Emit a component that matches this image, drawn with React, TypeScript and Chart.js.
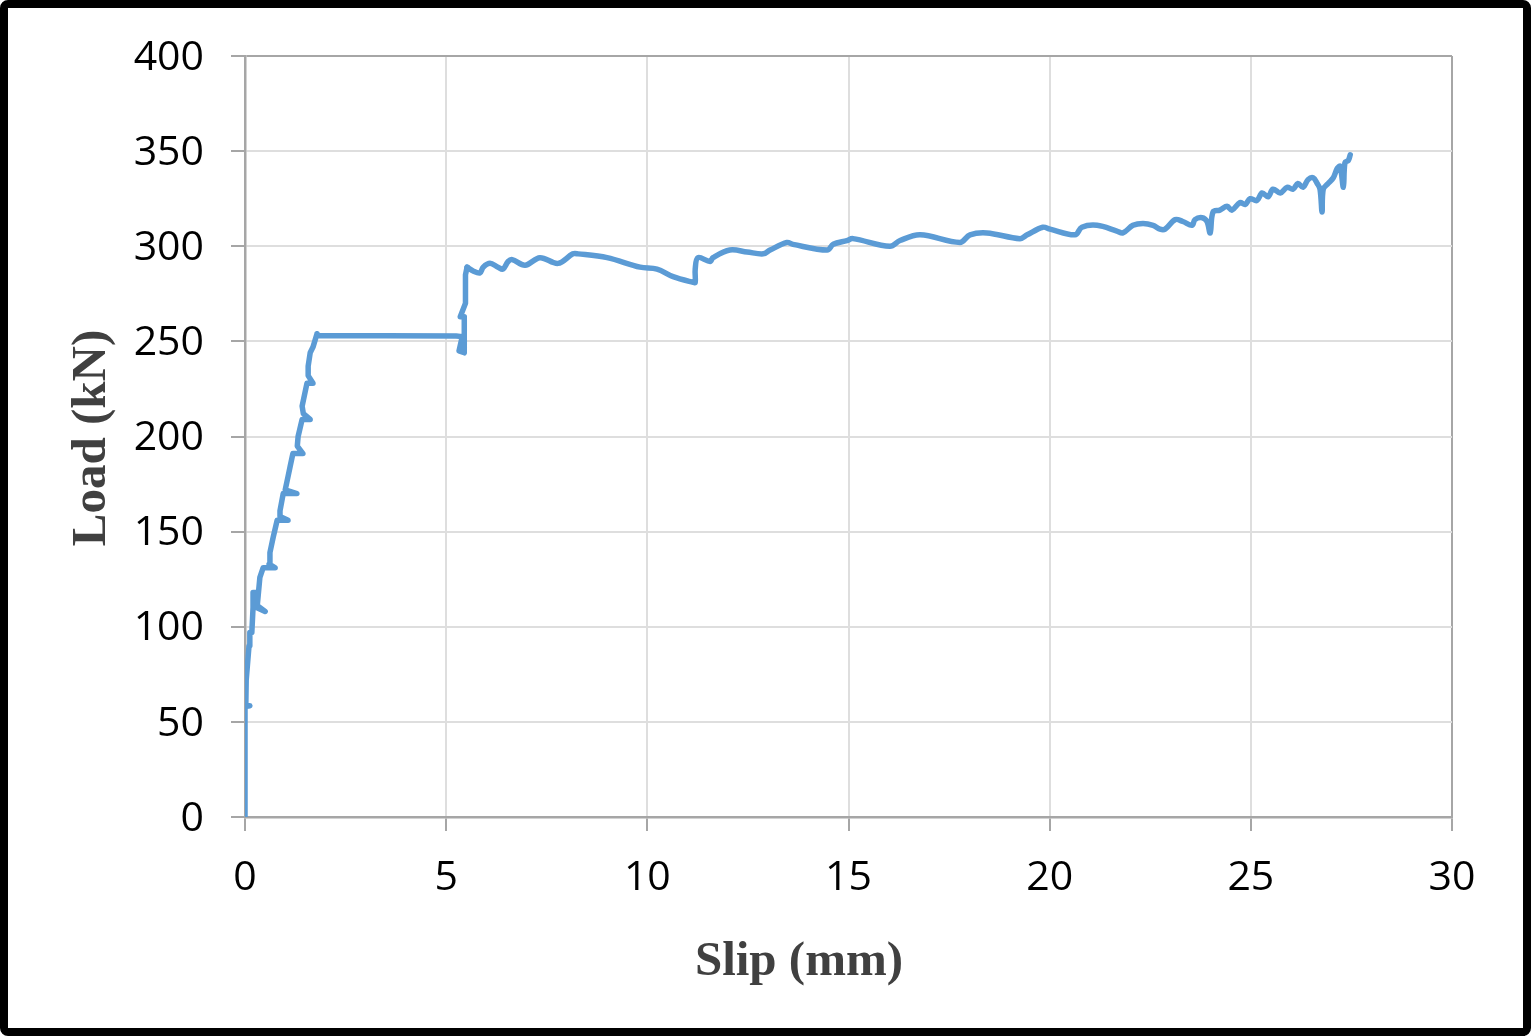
import React, { useEffect, useRef } from "react";
import { Chart, registerables } from "chart.js";

Chart.register(...registerables);

// Pre-peak and plateau part (stepped, straight segments): slip (mm) / load (kN)
const slipRise: number[] = [
  0, 0, 0.12, 0.02, 0.03, 0.1, 0.12, 0.17, 0.2, 0.2, 0.32, 0.25, 0.5, 0.3, 0.37, 0.45, 0.75, 0.6,
  0.62, 0.7, 0.8, 1.07, 0.87, 0.87, 0.95, 1.29, 1.0, 1.07, 1.12, 1.19, 1.44, 1.3, 1.32, 1.42,
  1.62, 1.45, 1.42, 1.54, 1.69, 1.57, 1.57, 1.62, 1.69, 1.79, 1.79, 3.5, 5.25, 5.4, 5.32, 5.45,
  5.45, 5.35, 5.48, 5.48, 5.52,
];
const loadRise: number[] = [
  0, 58, 58.5, 58.5, 72, 90, 97, 97, 110, 118, 118, 112, 108, 110, 126, 131, 131, 133,
  139, 147, 156, 156, 158, 161, 170, 170, 172, 179, 184, 191, 191, 195, 200, 209,
  209, 212, 216, 228, 228, 232, 237, 244, 247, 254, 253, 253, 252.8, 252.5, 245, 244,
  263, 263, 270, 285, 289,
];
// Post-slip part (wavy): slip (mm) / load (kN)
const slipWave: number[] = [
  5.52, 5.67, 5.84, 5.92, 6.09, 6.29, 6.41, 6.54, 6.64, 6.96, 7.33,
  7.78, 8.15, 8.28, 9.0, 9.82, 10.24, 10.64, 11.14, 11.19, 11.19, 11.26, 11.56, 11.63, 12.05,
  12.48, 12.88, 13.05, 13.47, 13.62, 14.47, 14.62, 14.96, 15.11, 16.03, 16.28, 16.78, 17.77,
  18.02, 18.44, 19.26, 19.44, 19.83, 20.01, 20.63, 20.8, 21.18, 21.67, 21.82, 22.07, 22.32,
  22.57, 22.74, 22.87, 23.12, 23.31, 23.54, 23.61, 23.79, 23.91, 23.99, 24.06, 24.23, 24.41,
  24.53, 24.73, 24.86, 24.98, 25.15, 25.28, 25.43, 25.55, 25.73, 25.9, 26.05, 26.17, 26.3,
  26.42, 26.55, 26.65, 26.72, 26.77, 26.8, 26.92, 27.05, 27.15, 27.22, 27.3, 27.34, 27.42, 27.47,
];
const loadWave: number[] = [
  289, 287, 286, 289, 291, 289, 288, 292, 293, 290, 294,
  291, 296, 296, 294, 289, 288, 284, 281, 281, 288, 294, 292, 294, 298,
  297, 296, 298, 302, 301, 298, 301, 303, 304, 300, 303, 306, 302,
  306, 307, 304, 306, 310, 309, 306, 310, 311, 308, 307, 311, 312,
  311, 309, 309, 314, 313, 311, 314, 315, 313, 307, 318, 319, 321,
  319, 323, 322, 325, 324, 328, 326, 330, 328, 331, 330, 333, 331,
  335, 336, 333, 330, 318, 330, 333, 336, 341, 342, 331, 344, 345, 348,
];
const xTicks = { min: 0, max: 30, step: 5 };
const yTicks = { min: 0, max: 400, step: 50 };
const xTitle = "Slip (mm)";
const yTitle = "Load (kN)";

const axisTitles = {
  id: "axisTitles",
  afterDraw(chart: any) {
    const ctx = chart.ctx;
    ctx.save();
    ctx.fillStyle = "#404040";
    ctx.font = "bold 49px 'Liberation Serif', serif";
    ctx.textAlign = "center";
    ctx.textBaseline = "alphabetic";
    ctx.fillText(xTitle, 799, 975);
    ctx.translate(105, 438);
    ctx.rotate(-Math.PI / 2);
    ctx.fillText(yTitle, 0, 0);
    ctx.restore();
  },
};

export default function App() {
  const ref = useRef<HTMLCanvasElement | null>(null);
  useEffect(() => {
    if (!ref.current) return;
    const rise = slipRise.map((x, i) => ({ x, y: loadRise[i] }));
    const wave = slipWave.map((x, i) => ({ x, y: loadWave[i] }));
    const tickFont = { family: "'Open Sans', sans-serif", size: 41 };
    const common = {
      showLine: true,
      borderColor: "#5b9bd5",
      backgroundColor: "#5b9bd5",
      borderWidth: 5.5,
      pointRadius: 0,
      borderCapStyle: "round" as const,
      borderJoinStyle: "round" as const,
    };
    const chart = new Chart(ref.current, {
      type: "scatter",
      data: {
        datasets: [
          { ...common, data: rise, tension: 0 },
          { ...common, data: wave, tension: 0.35 },
        ],
      },
      options: {
        animation: false,
        responsive: false,
        devicePixelRatio: 1,
        layout: { padding: { left: 0, top: 56, right: 79, bottom: 0 } },
        plugins: { legend: { display: false }, tooltip: { enabled: false } },
        scales: {
          x: {
            type: "linear",
            min: xTicks.min,
            max: xTicks.max,
            afterFit: (s: any) => { s.height = 219; },
            ticks: { stepSize: xTicks.step, color: "#000", font: tickFont, padding: 23, maxRotation: 0 },
            grid: {
              color: (c: any) => (c.tick && c.tick.value === xTicks.max ? "#a6a6a6" : "#dedede"),
              lineWidth: 2,
              tickColor: "#a6a6a6",
              tickLength: 14,
            },
            border: { color: "#a6a6a6", width: 2.5 },
          },
          y: {
            type: "linear",
            min: yTicks.min,
            max: yTicks.max,
            afterFit: (s: any) => { s.width = 245; },
            ticks: { stepSize: yTicks.step, color: "#000", font: tickFont, padding: 27, labelOffset: 2 },
            grid: {
              color: (c: any) => (c.tick && c.tick.value === yTicks.max ? "#a6a6a6" : "#dedede"),
              lineWidth: 2,
              tickColor: "#a6a6a6",
              tickLength: 14,
            },
            border: { color: "#a6a6a6", width: 2.5 },
          },
        },
      },
      plugins: [axisTitles],
    });
    return () => chart.destroy();
  }, []);
  return (
    <div style={{ position: "fixed", left: 0, top: 0, width: 1531, height: 1036, background: "#fff" }}>
      <canvas ref={ref} width={1531} height={1036} style={{ position: "absolute", left: 0, top: 0 }} />
      <div
        style={{
          position: "absolute",
          left: 0,
          top: 0,
          width: 1531,
          height: 1036,
          boxSizing: "border-box",
          border: "8px solid #000",
          borderRadius: 8,
          pointerEvents: "none",
        }}
      />
    </div>
  );
}
